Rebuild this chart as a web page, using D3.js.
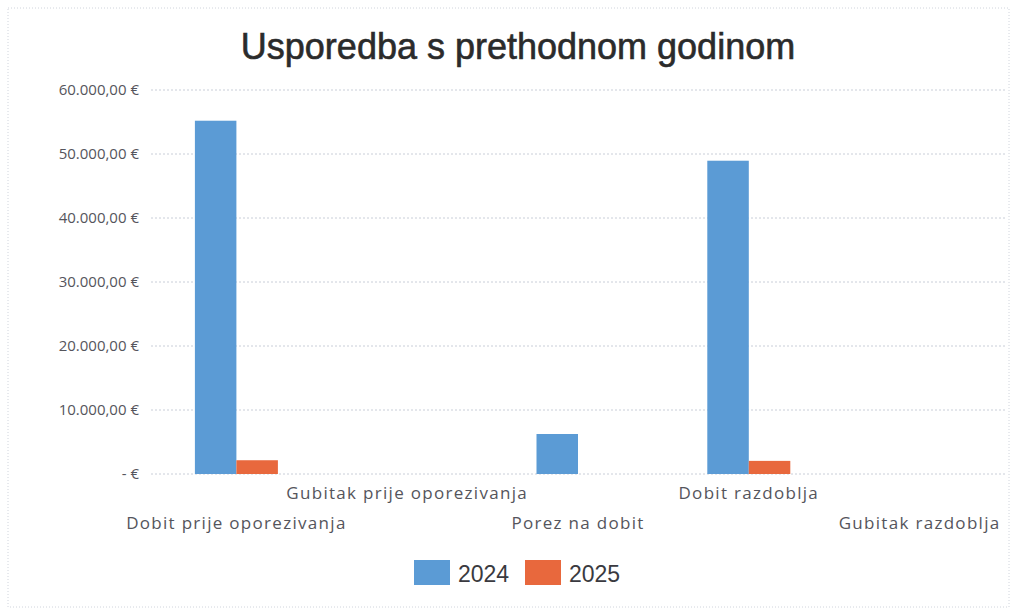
<!DOCTYPE html>
<html>
<head>
<meta charset="utf-8">
<script src="https://cdn.jsdelivr.net/npm/d3@7"></script>
<style>
  body { margin: 0; background: #fff; }
  svg { display: block; }
</style>
</head>
<body>
<div id="chart"></div>
<script>
// data
var categories = ["Dobit prije oporezivanja", "Gubitak prije oporezivanja", "Porez na dobit", "Dobit razdoblja", "Gubitak razdoblja"];
var seriesNames = ["2024", "2025"];
var values2024 = [55200, 0, 6250, 48950, 0];
var values2025 = [2150, 0, 0, 2050, 0];
var yTicks = [0, 10000, 20000, 30000, 40000, 50000, 60000];
var colors = ["#5B9BD5", "#E8683D"];

var width = 1017, height = 613;
var margin = {top: 90, right: 12, bottom: 139, left: 151};

var svg = d3.select("#chart").append("svg")
    .attr("width", width)
    .attr("height", height);

// faint frame like the scanned page
svg.append("rect")
    .attr("x", 8).attr("y", 8)
    .attr("width", width - 16).attr("height", height - 14)
    .attr("fill", "none")
    .attr("stroke", "#d0d4dc")
    .attr("stroke-dasharray", "1,2");

svg.append("text")
    .attr("x", 518).attr("y", 59)
    .attr("text-anchor", "middle")
    .attr("font-family", "Liberation Sans, Arial, sans-serif")
    .attr("font-size", 36)
    .attr("fill", "#2b2b2b")
    .attr("stroke", "#2b2b2b")
    .attr("stroke-width", 0.6)
    .text("Usporedba s prethodnom godinom");

var x = d3.scaleBand()
    .domain(categories)
    .range([margin.left, width - margin.right]);

var xInner = d3.scaleBand()
    .domain(seriesNames)
    .range([0, 83]);

var y = d3.scaleLinear()
    .domain([0, 60000])
    .range([height - margin.bottom, margin.top]);

// gridlines
svg.append("g")
    .selectAll("line")
    .data(yTicks)
    .enter().append("line")
    .attr("x1", margin.left).attr("x2", width - margin.right)
    .attr("y1", function(d) { return y(d); })
    .attr("y2", function(d) { return y(d); })
    .attr("stroke", "#c9ced8")
    .attr("stroke-dasharray", "2,2");

// y axis labels
function fmt(d) {
  if (d === 0) return "-   €";
  return d3.format(",.2f")(d).replace(/,/g, "#").replace(".", ",").replace(/#/g, ".") + " €";
}
var yAxis = d3.axisLeft(y).tickValues(yTicks).tickFormat(fmt).tickSize(0).tickPadding(12);
svg.append("g")
    .attr("transform", "translate(" + margin.left + ",0)")
    .call(yAxis)
    .call(function(g) { g.select(".domain").remove(); })
    .selectAll("text")
    .attr("font-family", "Open Sans, sans-serif")
    .attr("font-size", 15)
    .attr("fill", "#55555c");

// bars
var rows = categories.map(function(c, i) {
  return {cat: c, vals: [values2024[i], values2025[i]]};
});
var groups = svg.append("g")
    .selectAll("g")
    .data(rows)
    .enter().append("g")
    .attr("transform", function(d) {
      return "translate(" + (x(d.cat) + x.bandwidth() / 2 - 41.5) + ",0)";
    });
groups.selectAll("rect")
    .data(function(d) { return d.vals.map(function(v, j) { return {v: v, s: seriesNames[j], j: j}; }); })
    .enter().append("rect")
    .attr("x", function(d) { return xInner(d.s); })
    .attr("width", xInner.bandwidth())
    .attr("y", function(d) { return y(d.v); })
    .attr("height", function(d) { return y(0) - y(d.v); })
    .attr("fill", function(d) { return colors[d.j]; });

// staggered category labels
svg.append("g")
    .selectAll("text")
    .data(categories)
    .enter().append("text")
    .attr("x", function(d) { return x(d) + x.bandwidth() / 2; })
    .attr("y", function(d, i) { return i % 2 === 0 ? 529 : 499; })
    .attr("text-anchor", "middle")
    .attr("font-family", "Open Sans, sans-serif")
    .attr("font-size", 17)
    .attr("letter-spacing", 1.3)
    .attr("fill", "#55555c")
    .text(function(d) { return d; });

// legend
var legend = svg.append("g")
    .selectAll("g")
    .data(seriesNames)
    .enter().append("g")
    .attr("transform", function(d, i) { return "translate(" + (414 + i * 111) + ",560)"; });
legend.append("rect")
    .attr("width", 36).attr("height", 25)
    .attr("fill", function(d, i) { return colors[i]; });
legend.append("text")
    .attr("x", 44).attr("y", 22)
    .attr("font-family", "Liberation Sans, Arial, sans-serif")
    .attr("font-size", 23)
    .attr("fill", "#3a3a40")
    .text(function(d) { return d; });
</script>
</body>
</html>
